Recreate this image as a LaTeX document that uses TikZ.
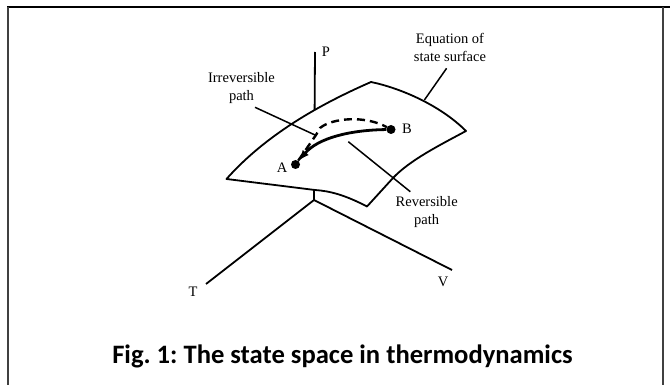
\documentclass[tikz,border=0pt]{standalone}
\usepackage{fontspec}
\setmainfont{Liberation Serif}
\newfontfamily\capfont{Carlito}
\usetikzlibrary{arrows.meta}
\frenchspacing

\tikzset{
  lbl/.style={font=\fontsize{14.5}{18}\selectfont, align=center, inner sep=0pt},
  edge/.style={line width=1.8pt, line join=round},
  leader/.style={line width=1.5pt},
  axis/.style={line width=1.8pt},
  statept/.style={circle, fill, inner sep=0pt, minimum size=9pt},
}

\begin{document}
\begin{tikzpicture}[x=1pt,y=-1pt]
\useasboundingbox (0,0) rectangle (670,385);

% Marco
\draw[line width=2pt] (7,7) -- (670,7);
\draw[line width=2pt, black!75] (7.5,7) -- (7.5,385);
\draw[line width=1.5pt, black!75] (663,7) -- (663,385);

% Ejes
\coordinate (O) at (314,200);
\coordinate (Pend) at (315,52);
\coordinate (Tend) at (206,284);
\coordinate (Vend) at (452,270);
\draw[axis] (O) -- (Pend);
\draw[axis] (O) -- (Tend);
\draw[axis] (O) -- (Vend);
\node[lbl] (P) at (326,52) {P};
\node[lbl] (T) at (193,292) {T};
\node[lbl] (V) at (443,282) {V};

% Superficie
\draw[edge, fill=white] (226.5,179)
  .. controls (270,130) and (330,100) .. (371,82)
  .. controls (400,88) and (440,105) .. (466,131)
  .. controls (440,145) and (410,160) .. (393,178)
  -- (367,206.5)
  .. controls (345,195) and (330,191) .. (315,190)
  -- cycle;

% Rotulos
\node[lbl] (eq) at (450,47.5) {Equation of\\state surface};
\node[lbl] (irr) at (241.5,88.5) {Irreversible\\path};
\node[lbl] (rev) at (426.7,212.5) {Reversible\\path};

\coordinate (eqa) at (446.6,68.3);
\coordinate (eqb) at (424.4,100);
\coordinate (irra) at (255,107.3);
\coordinate (irrb) at (315,135);
\coordinate (reva) at (410.3,191.7);
\coordinate (revb) at (348.3,141.7);
\draw[leader] (eqa) -- (eqb);
\draw[leader] (irra) -- (irrb);
\draw[leader] (reva) -- (revb);

% Estados
\node[statept] (A) at (295.5,164.5) {};
\node[statept] (B) at (391,129.5) {};
\node[lbl] (Alab) at (282,168) {A};
\node[lbl] (Blab) at (407,128.5) {B};

\draw[line width=2.4pt, dash pattern=on 8pt off 5pt] (A) -- (316,135) -- (320,128)
  .. controls (332,118) and (365,115) .. (B);
\draw[line width=2.8pt, -{Latex[length=11pt,width=8pt]}] (B)
  .. controls (350,130) and (318,138) .. (A);

% Leyenda
\node[font=\capfont\bfseries\fontsize{26.6}{30}\selectfont, anchor=base, inner sep=0pt]
  (cap) at (342.5,363.3) {Fig. 1: The state space in thermodynamics};
\end{tikzpicture}
\end{document}
